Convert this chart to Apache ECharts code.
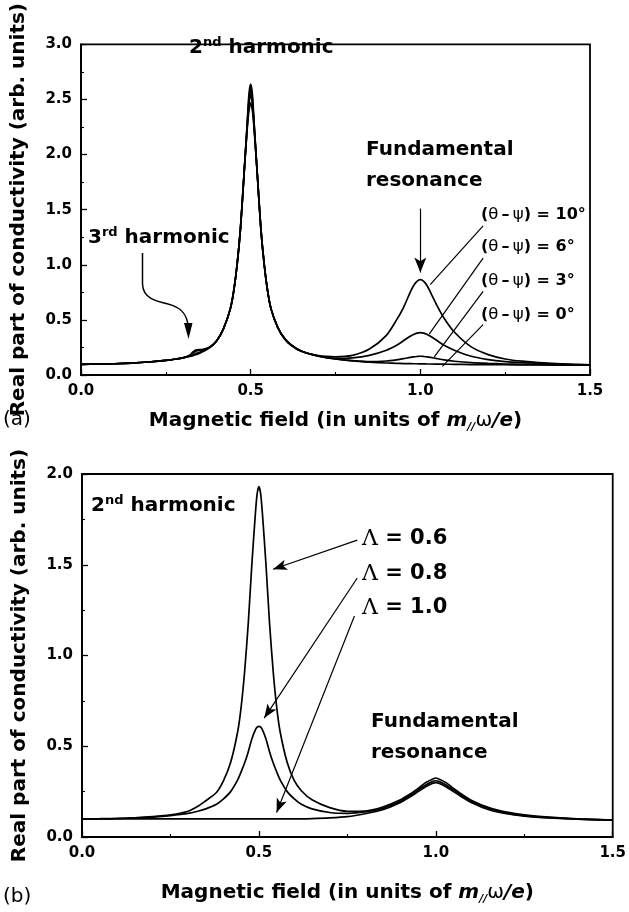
<!DOCTYPE html>
<html><head><meta charset="utf-8">
<script src="https://cdn.jsdelivr.net/npm/echarts@6/dist/echarts.min.js"></script>
<style>html,body{margin:0;padding:0;background:#fff}#c{width:629px;height:912px}</style>
</head><body><div id="c"></div>
<script>
// ---------- data: panel (a) ----------
const xTop = [0,0.05,0.1,0.15,0.2,0.25,0.28,0.3,0.32,0.33,0.34,0.35,0.36,0.38,0.4,0.42,0.44,0.45,0.46,0.47,0.48,0.49,0.495,0.5,0.505,0.51,0.52,0.53,0.54,0.55,0.56,0.58,0.6,0.62,0.65,0.7,0.75,0.8,0.85,0.9,0.93,0.95,0.97,0.98,0.99,1.0,1.01,1.02,1.03,1.05,1.07,1.1,1.15,1.2,1.25,1.3,1.4,1.5];
const top0 = [0.097,0.099,0.102,0.108,0.118,0.132,0.145,0.156,0.168,0.176,0.186,0.198,0.212,0.25,0.31,0.42,0.6,0.76,1.0,1.33,1.8,2.24,2.40,2.47,2.40,2.24,1.8,1.33,1.0,0.76,0.6,0.43,0.33,0.27,0.215,0.17,0.145,0.128,0.117,0.109,0.106,0.104,0.103,0.102,0.102,0.101,0.101,0.1,0.1,0.099,0.098,0.097,0.095,0.094,0.093,0.092,0.09,0.089];
const top3 = [0.097,0.099,0.102,0.108,0.118,0.132,0.145,0.156,0.17,0.182,0.196,0.207,0.218,0.25,0.31,0.42,0.6,0.76,1.0,1.33,1.8,2.26,2.46,2.55,2.46,2.26,1.8,1.33,1.0,0.76,0.6,0.43,0.33,0.27,0.215,0.17,0.146,0.13,0.121,0.127,0.138,0.148,0.16,0.165,0.168,0.17,0.168,0.165,0.16,0.148,0.137,0.125,0.112,0.105,0.1,0.097,0.093,0.09];
const top6 = [0.097,0.099,0.102,0.108,0.118,0.132,0.145,0.156,0.175,0.2,0.218,0.224,0.228,0.252,0.31,0.42,0.6,0.76,1.0,1.33,1.8,2.28,2.5,2.6,2.5,2.28,1.8,1.33,1.0,0.76,0.6,0.43,0.33,0.27,0.215,0.172,0.15,0.155,0.178,0.225,0.27,0.31,0.352,0.368,0.38,0.385,0.38,0.368,0.352,0.31,0.27,0.225,0.17,0.14,0.122,0.112,0.099,0.092];
const top10 = [0.097,0.099,0.102,0.108,0.118,0.132,0.145,0.156,0.18,0.21,0.228,0.231,0.233,0.254,0.31,0.42,0.6,0.76,1.0,1.33,1.8,2.3,2.55,2.64,2.55,2.3,1.8,1.33,1.0,0.76,0.6,0.43,0.33,0.27,0.215,0.175,0.165,0.178,0.235,0.36,0.5,0.61,0.75,0.81,0.85,0.865,0.85,0.81,0.75,0.625,0.515,0.39,0.255,0.185,0.145,0.125,0.103,0.093];

// ---------- data: panel (b) ----------
const xBot = [0,0.05,0.1,0.15,0.2,0.25,0.3,0.33,0.35,0.38,0.4,0.42,0.44,0.45,0.46,0.47,0.48,0.49,0.495,0.5,0.505,0.51,0.52,0.53,0.54,0.55,0.56,0.58,0.6,0.62,0.65,0.7,0.75,0.8,0.85,0.9,0.93,0.95,0.97,0.99,1.0,1.01,1.03,1.05,1.07,1.1,1.15,1.2,1.25,1.3,1.4,1.5];
const lam06 = [0.1,0.101,0.103,0.106,0.112,0.122,0.142,0.172,0.2,0.245,0.31,0.41,0.58,0.72,0.92,1.18,1.5,1.78,1.89,1.93,1.89,1.78,1.5,1.18,0.92,0.72,0.58,0.41,0.31,0.255,0.205,0.162,0.142,0.143,0.165,0.205,0.24,0.267,0.298,0.318,0.325,0.318,0.298,0.267,0.24,0.203,0.162,0.137,0.122,0.112,0.1,0.094];
const lam08 = [0.1,0.1,0.102,0.105,0.11,0.118,0.13,0.143,0.155,0.18,0.21,0.25,0.315,0.36,0.41,0.47,0.54,0.59,0.605,0.61,0.605,0.59,0.54,0.47,0.41,0.36,0.315,0.25,0.21,0.18,0.155,0.135,0.13,0.138,0.158,0.197,0.232,0.258,0.285,0.305,0.31,0.305,0.285,0.258,0.232,0.197,0.157,0.133,0.118,0.109,0.099,0.093];
const lam10 = [0.1,0.1,0.1,0.1,0.1,0.1,0.1,0.1,0.1,0.1,0.1,0.1,0.1,0.1,0.1,0.1,0.1,0.1,0.1,0.1,0.1,0.1,0.1,0.1,0.1,0.1,0.1,0.1,0.1,0.1,0.101,0.105,0.112,0.128,0.15,0.19,0.225,0.25,0.275,0.295,0.3,0.295,0.275,0.25,0.225,0.19,0.15,0.128,0.115,0.107,0.098,0.093];

const angleLabels = ['10', '6', '3', '0'];
const lambdaLabels = ['0.6', '0.8', '1.0'];

const F = '"DejaVu Sans", sans-serif';
const pair = (xs, ys) => xs.map((x, i) => [x, ys[i]]);

function xAxisCfg(gi, gap) {
  return {
    gridIndex: gi, type: 'value', min: 0, max: 1.5, interval: 0.5,
    axisLine: { show: true, onZero: false, lineStyle: { color: '#000', width: 1.8 } },
    axisTick: { show: true, inside: true, length: 6, lineStyle: { color: '#000', width: 1.3 } },
    minorTick: { show: true, splitNumber: 2, length: 3, lineStyle: { color: '#000', width: 1.1 } },
    splitLine: { show: false },
    axisLabel: { color: '#000', fontFamily: F, fontWeight: 'bold', fontSize: 15, margin: 9, formatter: v => v.toFixed(1) },
    name: 'Magnetic field (in units of {i|m}{s|//}{w|ω}{i|/e}{n|)}',
    nameLocation: 'middle', nameGap: gap,
    nameTextStyle: {
      color: '#000', fontFamily: F, fontWeight: 'bold', fontSize: 20, lineHeight: 24,
      rich: {
        i: { fontFamily: F, fontWeight: 'bold', fontStyle: 'italic', fontSize: 20, lineHeight: 24, color: '#000' },
        s: { fontFamily: F, fontWeight: 'bold', fontStyle: 'italic', fontSize: 11, lineHeight: 12, verticalAlign: 'bottom', color: '#000' },
        w: { fontFamily: F, fontWeight: 'normal', fontSize: 20, lineHeight: 24, color: '#000' },
        n: { fontFamily: F, fontWeight: 'bold', fontSize: 20, lineHeight: 24, color: '#000' }
      }
    }
  };
}
function yAxisCfg(gi, max) {
  return {
    gridIndex: gi, type: 'value', min: 0, max: max, interval: 0.5,
    axisLine: { show: true, lineStyle: { color: '#000', width: 1.8 } },
    axisTick: { show: true, inside: true, length: 6, lineStyle: { color: '#000', width: 1.3 } },
    minorTick: { show: true, splitNumber: 2, length: 3, lineStyle: { color: '#000', width: 1.1 } },
    splitLine: { show: false },
    axisLabel: { color: '#000', fontFamily: F, fontWeight: 'bold', fontSize: 15, margin: 9, formatter: v => v.toFixed(1) },
    name: 'Real part of conductivity (arb. units)',
    nameLocation: 'middle', nameRotate: 90, nameGap: 52,
    nameTextStyle: { color: '#000', fontFamily: F, fontWeight: 'bold', fontSize: 20 }
  };
}
const lineBase = { type: 'line', symbol: 'none', showSymbol: false, smooth: 0.25, silent: true,
  lineStyle: { color: '#000', width: 1.7 }, animation: false };

const arrowEnd = (a, b, size) => [{ coord: a, symbol: 'none' }, { coord: b, symbol: 'arrow', symbolSize: size }];
const plainLine = (a, b) => [{ coord: a, symbol: 'none' }, { coord: b, symbol: 'none' }];

const mlBase = { silent: true, animation: false, label: { show: false },
  lineStyle: { color: '#000', width: 1.2, type: 'solid' }, emphasis: { disabled: true } };

const option = {
  backgroundColor: '#fff',
  animation: false,
  grid: [
    { left: 81, top: 27, width: 509, height: 348, show: true, borderColor: '#000', borderWidth: 1.8, containLabel: false },
    { left: 82, top: 474, width: 532, height: 363, show: true, borderColor: '#000', borderWidth: 1.8, containLabel: false }
  ],
  xAxis: [xAxisCfg(0, 34), xAxisCfg(1, 44)],
  yAxis: [yAxisCfg(0, 3.0), yAxisCfg(1, 2.0)],
  series: [
    Object.assign({}, lineBase, { name: '0°', xAxisIndex: 0, yAxisIndex: 0, data: pair(xTop, top0) }),
    Object.assign({}, lineBase, { name: '3°', xAxisIndex: 0, yAxisIndex: 0, data: pair(xTop, top3) }),
    Object.assign({}, lineBase, { name: '6°', xAxisIndex: 0, yAxisIndex: 0, data: pair(xTop, top6) }),
    Object.assign({}, lineBase, { name: '10°', xAxisIndex: 0, yAxisIndex: 0, data: pair(xTop, top10),
      markLine: Object.assign({}, mlBase, { data: [
        plainLine([1.185, 1.353], [1.029, 0.819]),
        plainLine([1.185, 1.06], [1.026, 0.371]),
        plainLine([1.185, 0.759], [1.041, 0.164]),
        plainLine([1.185, 0.457], [1.065, 0.078]),
        arrowEnd([1.0, 1.51], [1.0, 0.93], [9, 15])
      ] }) }),
    Object.assign({}, lineBase, { name: 'Λ = 1.0', xAxisIndex: 1, yAxisIndex: 1, data: pair(xBot, lam10) }),
    Object.assign({}, lineBase, { name: 'Λ = 0.8', xAxisIndex: 1, yAxisIndex: 1, data: pair(xBot, lam08) }),
    Object.assign({}, lineBase, { name: 'Λ = 0.6', xAxisIndex: 1, yAxisIndex: 1, data: pair(xBot, lam06),
      markLine: Object.assign({}, mlBase, { data: [
        arrowEnd([0.778, 1.636], [0.54, 1.475], [8, 14]),
        arrowEnd([0.778, 1.427], [0.515, 0.655], [8, 14]),
        arrowEnd([0.770, 1.218], [0.55, 0.135], [8, 14])
      ] }) })
  ]
};

const chart = echarts.init(document.getElementById('c'), null, { renderer: 'canvas' });
chart.setOption(option);

// ---------- annotations ----------
const bold = (size) => ({ fontFamily: F, fontWeight: 'bold', fontSize: size, lineHeight: size + 4, fill: '#000' });
const supS = { fontFamily: F, fontWeight: 'bold', fontSize: 13, lineHeight: 11, verticalAlign: 'top', fill: '#000' };
function txt(x, y, text, rich, extra) {
  const style = Object.assign({ text: text, verticalAlign: 'middle', align: 'left', fill: '#000' }, extra || {});
  if (rich) style.rich = rich;
  return { type: 'text', x: x, y: y, silent: true, style: style };
}
const harmRich = { n: bold(20), s: supS };
const thetaRich = { p: bold(16), g: { fontFamily: F, fontWeight: 'normal', fontSize: 16.5, lineHeight: 20, fill: '#000' } };
const lamRich = { L: { fontFamily: '"DejaVu Serif", serif', fontWeight: 'normal', fontSize: 22, lineHeight: 26, fill: '#000' }, p: bold(21) };
const angleY = [215, 247, 281, 315];
const lamY = [539, 574, 608];

const stroke = { stroke: '#000', lineWidth: 1.5, fill: null };
const graphics = [
  txt(189, 48, '{n|2}{s|nd}{n| harmonic}', harmRich),
  txt(88, 238, '{n|3}{s|rd}{n| harmonic}', harmRich),
  txt(366, 150, '{n|Fundamental}', harmRich),
  txt(366, 181, '{n|resonance}', harmRich),
  txt(91, 506, '{n|2}{s|nd}{n| harmonic}', harmRich),
  txt(371, 722, '{n|Fundamental}', harmRich),
  txt(371, 753, '{n|resonance}', harmRich),
  txt(3, 420, '(a)', null, { font: 'normal 20px ' + F }),
  txt(3, 897, '(b)', null, { font: 'normal 20px ' + F }),
  { type: 'line', silent: true, shape: { x1: 142.5, y1: 253, x2: 142.5, y2: 284 }, style: stroke },
  { type: 'bezierCurve', silent: true, shape: { x1: 142.5, y1: 284, cpx1: 143, cpy1: 298, cpx2: 155, cpy2: 301, x2: 168, y2: 304 }, style: stroke },
  { type: 'bezierCurve', silent: true, shape: { x1: 168, y1: 304, cpx1: 180, cpy1: 307, cpx2: 187, cpy2: 313, x2: 188, y2: 326 }, style: stroke },
  { type: 'polygon', silent: true, shape: { points: [[184, 323], [192.5, 323], [188.5, 339]] }, style: { fill: '#000' } }
];
angleLabels.forEach((a, i) => {
  graphics.push(txt(481, angleY[i], '{p|(}{g|θ}{p|\u2009–\u2009}{g|ψ}{p|) = ' + a + '°}', thetaRich));
});
lambdaLabels.forEach((l, i) => {
  graphics.push(txt(362, lamY[i], '{L|Λ}{p| = ' + l + '}', lamRich));
});
chart.setOption({ graphic: { elements: graphics } });
</script>
</body></html>
